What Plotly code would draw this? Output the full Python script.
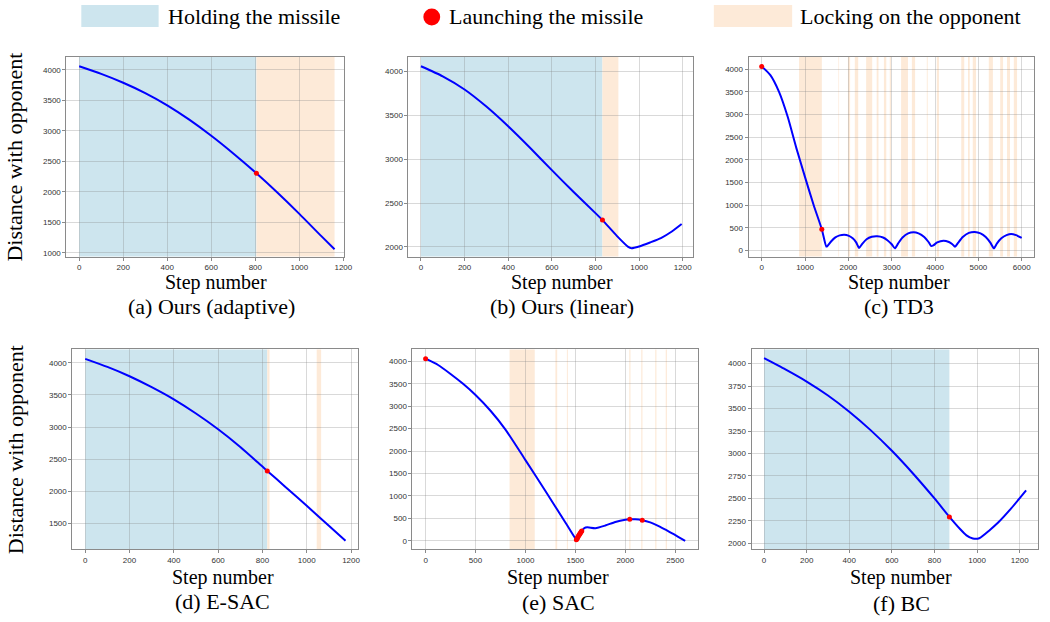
import plotly.graph_objects as go

W, H = 1050, 622

# ---------------- data ----------------
# (a) Ours (adaptive)
a_steps = [0, 100, 200, 300, 400, 500, 600, 700, 805, 900, 1000, 1100, 1160]
a_dist = [4060, 3935, 3790, 3620, 3420, 3185, 2920, 2630, 2305, 1990, 1640, 1275, 1060]
a_launch_steps = [805]
a_launch_dist = [2305]
a_hold = [(0, 805)]
a_lock = [(805, 1160)]

# (b) Ours (linear)
b_steps = [0, 100, 200, 300, 400, 500, 600, 700, 800, 832, 900, 950, 965, 1000, 1050, 1100,
           1150, 1195]
b_dist = [4060, 3945, 3795, 3600, 3375, 3130, 2875, 2625, 2385, 2305, 2120, 2000, 1985, 2005,
          2050, 2100, 2175, 2260]
b_launch_steps = [832]
b_launch_dist = [2305]
b_hold = [(0, 832)]
b_lock = [(832, 905)]

# (c) TD3
c_steps = [0, 200, 400, 600, 800, 1000, 1200, 1387, 1490, 1510, 1600, 1700, 1800, 1906,
           2000, 2100, 2180, 2249, 2320, 2420, 2540, 2668, 2800, 2900, 3000, 3072, 3150,
           3250, 3380, 3507, 3620, 3750, 3850, 3911, 3960, 4050, 4193, 4320, 4400, 4460,
           4530, 4640, 4780, 4917, 5050, 5170, 5280, 5359, 5430, 5530, 5650, 5756, 5870, 6000]
c_dist = [4060, 3870, 3500, 2950, 2260, 1620, 1000, 470, 90, 95, 200, 290, 335, 350,
          330, 270, 180, 60, 150, 250, 305, 316, 290, 230, 140, 50, 160,
          290, 380, 405, 380, 300, 190, 100, 115, 180, 220, 190, 140, 85,
          170, 300, 390, 411, 380, 300, 170, 50, 160, 270, 340, 367, 340, 279]
c_launch_steps = [0, 1387]
c_launch_dist = [4060, 470]
c_hold = []
c_lock = [(862, 1388), (1770, 1785), (1990, 2040), (2148, 2227), (2410, 2550), (2653, 2695),
          (2820, 2875), (2955, 2985), (3217, 3375), (3465, 3540), (3810, 3830), (4040, 4090),
          (4605, 4674), (4760, 4800), (4870, 4945), (5240, 5335), (5504, 5570), (5660, 5730),
          (5818, 5893)]

# (d) E-SAC
d_steps = [0, 100, 200, 300, 400, 500, 600, 700, 800, 822, 900, 1000, 1100, 1175]
d_dist = [4060, 3935, 3790, 3620, 3430, 3210, 2965, 2690, 2385, 2318, 2080, 1775, 1465, 1230]
d_launch_steps = [822]
d_launch_dist = [2318]
d_hold = [(0, 822)]
d_lock = [(822, 832), (1045, 1065)]

# (e) SAC
e_steps = [0, 125, 250, 375, 500, 650, 800, 1000, 1200, 1400, 1505, 1515, 1540, 1565, 1590,
           1620, 1700, 1800, 1900, 2000, 2045, 2100, 2170, 2250, 2350, 2450, 2530, 2600]
e_dist = [4060, 3920, 3720, 3500, 3250, 2900, 2480, 1800, 1110, 410, 40, 30, 120, 220, 285,
          300, 280, 340, 420, 470, 480, 480, 460, 410, 310, 190, 90, 0]
e_launch_steps = [0, 1510, 1516, 1522, 1528, 1534, 1540, 1546, 1552, 1558, 1564, 2045, 2170]
e_launch_dist = [4060, 25, 45, 70, 95, 120, 140, 160, 180, 200, 220, 480, 460]
e_hold = []
e_lock = [(841, 1093), (1300, 1318), (1415, 1425), (2040, 2052), (2160, 2172), (2300, 2312),
          (2405, 2417)]

# (f) BC
f_steps = [0, 100, 200, 300, 400, 500, 600, 700, 800, 870, 920, 950, 980, 1010, 1060, 1100,
           1160, 1230]
f_dist = [4060, 3935, 3800, 3645, 3465, 3260, 3030, 2775, 2500, 2295, 2160, 2090, 2055, 2058,
          2150, 2235, 2390, 2590]
f_launch_steps = [870]
f_launch_dist = [2295]
f_hold = [(0, 870)]
f_lock = []

captions = ["(a) Ours (adaptive)", "(b) Ours (linear)", "(c) TD3",
            "(d) E-SAC", "(e) SAC", "(f) BC"]
x_ticks = [list(range(0, 1201, 200)), list(range(0, 1201, 200)), list(range(0, 6001, 1000)),
           list(range(0, 1201, 200)), list(range(0, 2501, 500)), list(range(0, 1201, 200))]
y_ticks = [list(range(1000, 4001, 500)), list(range(2000, 4001, 500)), list(range(0, 4001, 500)),
           list(range(1500, 4001, 500)), list(range(0, 4001, 500)), list(range(2000, 4001, 250))]

# ---------------- layout (pixels) ----------------
boxes = [(67, 57, 347, 257), (412, 57, 699, 257), (755, 57, 1043, 257),
         (73, 350, 361, 550), (416, 350, 704, 550), (758, 350, 1047, 550)]
x_ranges = [(-58, 1203), (-57, 1247), (-304, 6285), (-58, 1231), (-132, 2728), (-59, 1286)]
y_ranges = [(940, 4213), (1889, 4167), (-132, 4271), (1101, 4207), (-185, 4267), (1937, 4157)]
step_pos = [(218, 283), (567, 283), (907, 283), (225, 578), (563, 578), (909, 578)]
cap_pos = [(213, 307), (567, 307), (907, 307), (224, 602), (563, 603), (909, 604)]

BLUE_BAND = "rgb(205,229,238)"
ORANGE_BAND = "rgb(253,234,216)"
SERIF = "Liberation Serif, Times New Roman, serif"
SANS = "Liberation Sans Narrow, Arial Narrow, Liberation Sans, Arial, sans-serif"

series = [
    (a_steps, a_dist, a_launch_steps, a_launch_dist, a_hold, a_lock),
    (b_steps, b_dist, b_launch_steps, b_launch_dist, b_hold, b_lock),
    (c_steps, c_dist, c_launch_steps, c_launch_dist, c_hold, c_lock),
    (d_steps, d_dist, d_launch_steps, d_launch_dist, d_hold, d_lock),
    (e_steps, e_dist, e_launch_steps, e_launch_dist, e_hold, e_lock),
    (f_steps, f_dist, f_launch_steps, f_launch_dist, f_hold, f_lock),
]


def px(xp):
    return xp / W


def py(yp):
    return 1 - yp / H


fig = go.Figure()
shapes = []
annotations = []
layout_axes = {}

for i, (st, di, ls, ld, hold, lock) in enumerate(series):
    n = "" if i == 0 else str(i + 1)
    xa, ya = "x" + n, "y" + n
    fig.add_trace(go.Scatter(x=st, y=di, mode="lines", xaxis=xa, yaxis=ya, showlegend=False,
                             line=dict(color="#0000ff", width=2, shape="spline", smoothing=0.6),
                             hoverinfo="skip"))
    fig.add_trace(go.Scatter(x=ls, y=ld, mode="markers", xaxis=xa, yaxis=ya, showlegend=False,
                             marker=dict(color="#ff0000", size=5), hoverinfo="skip"))
    for (s, e) in hold:
        shapes.append(dict(type="rect", xref=xa, yref=ya + " domain", x0=s, x1=e, y0=0, y1=1,
                           fillcolor=BLUE_BAND, line=dict(width=0), layer="below"))
    for (s, e) in lock:
        shapes.append(dict(type="rect", xref=xa, yref=ya + " domain", x0=s, x1=e, y0=0, y1=1,
                           fillcolor=ORANGE_BAND, line=dict(width=0), layer="below"))
    l, t, r, b = boxes[i]
    common = dict(showgrid=True, gridcolor="rgba(128,128,128,0.3)", gridwidth=1,
                  showline=True, mirror=True, linecolor="#8a8a8a", linewidth=1,
                  ticks="outside", ticklen=3, tickcolor="#8a8a8a", zeroline=False,
                  tickfont=dict(family=SANS, size=8, color="#333333"))
    layout_axes["xaxis" + n] = dict(domain=[px(l), px(r)], range=list(x_ranges[i]), anchor=ya,
                                    tickvals=x_ticks[i], **common)
    layout_axes["yaxis" + n] = dict(domain=[py(b), py(t)], range=list(y_ranges[i]), anchor=xa,
                                    tickvals=y_ticks[i], **common)
    sx, sy = step_pos[i]
    annotations.append(dict(text="Step number", x=px(sx), y=py(sy), xref="paper",
                            yref="paper", xanchor="center", yanchor="middle", showarrow=False,
                            font=dict(family=SERIF, size=20, color="black")))
    cx, cy = cap_pos[i]
    annotations.append(dict(text=captions[i], x=px(cx), y=py(cy), xref="paper",
                            yref="paper", xanchor="center", yanchor="middle", showarrow=False,
                            font=dict(family=SERIF, size=22, color="black")))

# y titles
for yc in (157, 450):
    annotations.append(dict(text="Distance with opponent", x=px(15), y=py(yc), xref="paper",
                            yref="paper", xanchor="center", yanchor="middle", textangle=-90,
                            showarrow=False, font=dict(family=SERIF, size=22, color="black")))

# legend
shapes.append(dict(type="rect", xref="paper", yref="paper", x0=px(82), x1=px(160), y0=py(27),
                   y1=py(5), fillcolor=BLUE_BAND, line=dict(width=0)))
shapes.append(dict(type="circle", xref="paper", yref="paper", x0=px(427), x1=px(444),
                   y0=py(25.5), y1=py(8.5), fillcolor="#ff0000", line=dict(width=0)))
shapes.append(dict(type="rect", xref="paper", yref="paper", x0=px(720), x1=px(799), y0=py(27),
                   y1=py(5), fillcolor=ORANGE_BAND, line=dict(width=0)))
for txt, lx in (("Holding the missile", 167), ("Launching the missile", 451),
                ("Locking on the opponent", 805)):
    annotations.append(dict(text=txt, x=px(lx), y=py(16.5), xref="paper", yref="paper",
                            xanchor="left", yanchor="middle", showarrow=False,
                            font=dict(family=SERIF, size=22, color="black")))

fig.update_layout(width=W, height=H, margin=dict(l=0, r=0, t=0, b=0),
                  paper_bgcolor="white", plot_bgcolor="white",
                  shapes=shapes, annotations=annotations, **layout_axes)

fig.write_html("out.html", config={"displayModeBar": False},
               post_script="document.body.style.margin='0px';"
                           "document.body.style.overflow='hidden';")
